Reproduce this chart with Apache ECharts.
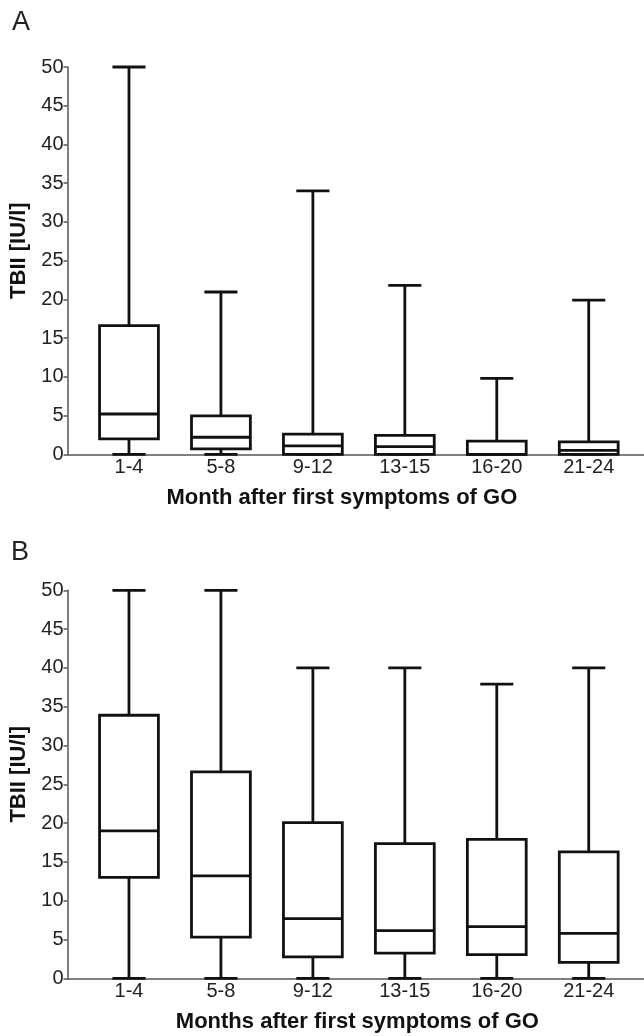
<!DOCTYPE html>
<html>
<head>
<meta charset="utf-8">
<script src="https://cdn.jsdelivr.net/npm/echarts@6/dist/echarts.min.js"></script>
<style>html,body{margin:0;padding:0;background:#fff}#c{width:644px;height:1036px}</style>
</head>
<body>
<div id="c"></div>
<script>
var categories = ['1-4', '5-8', '9-12', '13-15', '16-20', '21-24'];
var yTicks = [0, 5, 10, 15, 20, 25, 30, 35, 40, 45, 50];

// Panel A
var minA = [0, 0, 0, 0, 0, 0];
var q1A  = [2.0, 0.7, 0, 0, 0, 0];
var medA = [5.2, 2.2, 1.1, 1.0, 0, 0.5];
var q3A  = [16.6, 4.95, 2.6, 2.45, 1.7, 1.6];
var maxA = [50, 20.95, 34, 21.8, 9.8, 19.9];

// Panel B
var minB = [0, 0, 0, 0, 0, 0];
var q1B  = [13.0, 5.3, 2.75, 3.25, 3.05, 2.05];
var medB = [19.0, 13.2, 7.7, 6.15, 6.65, 5.8];
var q3B  = [33.9, 26.6, 20.05, 17.35, 17.9, 16.3];
var maxB = [50, 50, 40, 40, 37.9, 40];

function rows(mn, q1, md, q3, mx) {
  return categories.map(function (c, i) { return [i, mn[i], q1[i], md[i], q3[i], mx[i]]; });
}

var LW = 2.8, COL = '#111';
function renderBox(params, api) {
  var i = api.value(0);
  var band = api.size([1, 0])[0];
  var bw = band * 0.64, cw = band * 0.36;
  var pMin = api.coord([i, api.value(1)]);
  var pQ1 = api.coord([i, api.value(2)]);
  var pMed = api.coord([i, api.value(3)]);
  var pQ3 = api.coord([i, api.value(4)]);
  var pMax = api.coord([i, api.value(5)]);
  var x = pQ1[0];
  var st = { stroke: COL, lineWidth: LW, fill: null };
  return {
    type: 'group',
    children: [
      { type: 'line', shape: { x1: x, y1: pMax[1], x2: x, y2: pQ3[1] }, style: st },
      { type: 'line', shape: { x1: x, y1: pQ1[1], x2: x, y2: pMin[1] }, style: st },
      { type: 'line', shape: { x1: x - cw / 2, y1: pMax[1], x2: x + cw / 2, y2: pMax[1] }, style: st },
      { type: 'line', shape: { x1: x - cw / 2, y1: pMin[1], x2: x + cw / 2, y2: pMin[1] }, style: st },
      { type: 'rect', shape: { x: x - bw / 2, y: pQ3[1], width: bw, height: pQ1[1] - pQ3[1] }, style: { stroke: COL, lineWidth: LW, fill: '#fff' } },
      { type: 'line', shape: { x1: x - bw / 2, y1: pMed[1], x2: x + bw / 2, y2: pMed[1] }, style: st }
    ]
  };
}

var FF = '"Liberation Sans", Arial, Helvetica, sans-serif';
var axisCol = '#555';

function catAxis(gi, name, pad) {
  return {
    type: 'category', gridIndex: gi, data: categories,
    axisLine: { show: false }, axisTick: { show: false },
    axisLabel: { fontSize: 20, fontFamily: FF, color: '#222', margin: 3 },
    name: name, nameLocation: 'middle', nameGap: 33,
    nameTextStyle: { fontSize: 22, fontWeight: 'bold', fontFamily: FF, color: '#111', padding: pad }
  };
}
function lineXAxis(gi) {
  return {
    type: 'value', gridIndex: gi, min: 0, max: 1,
    axisLine: { show: true, lineStyle: { color: axisCol, width: 1.5 } },
    axisTick: { show: false }, axisLabel: { show: false }, splitLine: { show: false }
  };
}
function hiddenY(gi) {
  return { type: 'value', gridIndex: gi, min: 0, max: 50, interval: 5, show: false, splitLine: { show: false } };
}
function shownY(gi) {
  return {
    type: 'value', gridIndex: gi, min: yTicks[0], max: yTicks[yTicks.length - 1], interval: 5,
    axisLine: { show: true, lineStyle: { color: axisCol, width: 1.5 } },
    axisTick: { show: true, length: 4, lineStyle: { color: axisCol, width: 1.5 } },
    axisLabel: { fontSize: 20, fontFamily: FF, color: '#222', margin: 4 },
    splitLine: { show: false },
    name: 'TBII [IU/l]', nameLocation: 'middle', nameRotate: 90, nameGap: 34,
    nameTextStyle: { fontSize: 22, fontWeight: 'bold', fontFamily: FF, color: '#111', padding: [0, 0, 0, 20] }
  };
}

var option = {
  animation: false,
  backgroundColor: '#fff',
  title: [
    { text: 'A', left: 12, top: 9, padding: 0, textStyle: { fontSize: 27, fontWeight: 'normal', fontFamily: FF, color: '#222' } },
    { text: 'B', left: 11, top: 539, padding: 0, textStyle: { fontSize: 27, fontWeight: 'normal', fontFamily: FF, color: '#222' } }
  ],
  grid: [
    { left: 83, right: 9.3, top: 67, height: 387.3 },
    { left: 67.5, right: 0, top: 67, height: 387.3 },
    { left: 83, right: 9.3, top: 590.3, height: 388 },
    { left: 67.5, right: 0, top: 590.3, height: 388 }
  ],
  xAxis: [
    catAxis(0, 'Month after first symptoms of GO', [0, 34, 0, 0]),
    lineXAxis(1),
    catAxis(2, 'Months after first symptoms of GO', [0, 3, 0, 0]),
    lineXAxis(3)
  ],
  yAxis: [hiddenY(0), shownY(1), hiddenY(2), shownY(3)],
  series: [
    { type: 'custom', name: 'A', xAxisIndex: 0, yAxisIndex: 0, renderItem: renderBox, clip: false,
      encode: { x: 0, y: [1, 2, 3, 4, 5] }, data: rows(minA, q1A, medA, q3A, maxA) },
    { type: 'custom', name: 'B', xAxisIndex: 2, yAxisIndex: 2, renderItem: renderBox, clip: false,
      encode: { x: 0, y: [1, 2, 3, 4, 5] }, data: rows(minB, q1B, medB, q3B, maxB) }
  ]
};
echarts.init(document.getElementById('c'), null, { renderer: 'canvas' }).setOption(option);
</script>
</body>
</html>
